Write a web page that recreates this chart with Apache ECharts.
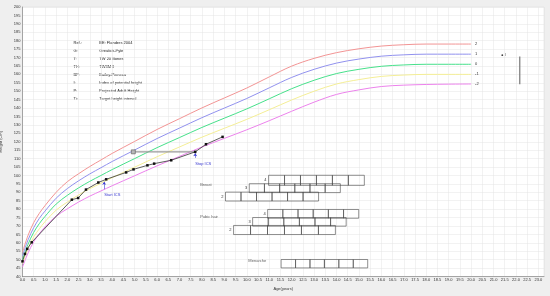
<!DOCTYPE html>
<html>
<head>
<meta charset="utf-8">
<script src="https://cdn.jsdelivr.net/npm/echarts@6/dist/echarts.min.js"></script>
<style>
  html, body { margin: 0; padding: 0; background: #ffffff; }
  #chart { width: 550px; height: 296px; }
</style>
</head>
<body>
<div id="chart"></div>
<script>
// reference curves (Flanders 2004), height in cm at each age
const refAges = [0, 0.25, 0.5, 0.75, 1, 1.5, 2, 2.5, 3, 3.5, 4, 5, 6, 7, 8, 9, 10, 11, 12, 13, 14, 15, 16, 17, 18, 19, 20];
const sdPlus2  = [54.4, 64.5, 72, 77.5, 82, 90, 96.3, 101, 105.3, 109.2, 113.1, 120.2, 127.3, 133.7, 140.1, 146, 151.9, 158.5, 164.9, 169.5, 172.9, 175.2, 176.8, 177.6, 178, 178, 178];
const sdPlus1  = [52.2, 61.8, 69, 74.5, 78.8, 86.5, 92.2, 96.8, 100.9, 104.6, 108.3, 115.1, 121.9, 128.1, 134.3, 140, 145.7, 152, 158.2, 163, 166.7, 169.1, 170.8, 171.6, 172, 172, 172];
const sdZero   = [50, 59.2, 66.2, 71.4, 75.6, 83, 88.2, 92.6, 96.5, 100, 103.5, 110, 116.5, 122.5, 128.5, 134, 139.5, 145.5, 151.5, 156.5, 160.5, 163, 164.8, 165.6, 166, 166, 166];
const sdMinus1 = [47.8, 56.6, 63.5, 68.3, 72.5, 79.4, 84.2, 88.4, 92.1, 95.4, 98.7, 104.9, 111.1, 116.9, 122.7, 128, 133.3, 139, 144.8, 150, 154.3, 156.9, 158.8, 159.6, 160, 160, 160];
const sdMinus2 = [45.6, 54, 60.6, 65.3, 69.4, 75.8, 80.2, 84.2, 87.7, 90.8, 93.9, 99.8, 105.7, 111.3, 116.9, 122, 127.1, 132.5, 138.1, 143.5, 148.1, 150.8, 152.8, 153.6, 154, 154.2, 154.3];

// measured heights of the child
const patientAges    = [0, 0.11, 0.21, 0.41, 2.2, 2.48, 2.83, 3.38, 3.73, 4.62, 4.95, 5.57, 5.87, 6.63, 7.7, 8.18, 8.92];
const patientHeights = [49, 53.4, 56.4, 60.3, 85.6, 86.6, 91.6, 95.8, 97.7, 101.8, 103.6, 106, 107, 109, 114, 118.5, 122.9];

// bone age (square) linked to chronological age
const boneAge = [4.94, 7.7];
const boneHeight = 114;

// treatment markers: [age, arrow bottom, arrow top, text]
const icsMarks = [
  [3.64, 91.8, 96.2, 'Start ICS'],
  [7.7, 110.4, 113.2, 'Stop ICS']
];

// index of potential height and target interval
const indexPoint = [21.39, 171.4];
const targetAge = 22.17;
const targetRange = [154.1, 170.6];

// puberty stage rows: [group, stage, startAge, endAge, top, bottom, boxes]
const stageRows = [
  ['Breast', '4', 10.97, 15.24, 100.1, 94.1, 6],
  ['Breast', '3', 10.11, 14.17, 95.1, 89.8, 6],
  ['Breast', '2', 9.05, 13.2, 90.1, 84.8, 6],
  ['Pubic hair', '4', 10.93, 14.99, 79.8, 74.6, 6],
  ['Pubic hair', '3', 10.26, 14.43, 75.0, 69.9, 6],
  ['Pubic hair', '2', 9.41, 13.95, 70.3, 64.9, 6],
  ['Menarche', '', 11.53, 15.39, 50.1, 45.1, 6]
];
const groupLabels = [
  ['Breast', 7.92, 94.5],
  ['Pubic hair', 7.92, 75.2],
  ['Menarche', 10.07, 49.4]
];

// info block top left
const infoKeys = ['Ref.:', 'G:', 'T:', 'TH:', 'BP:', 'I:', 'P:', 'Ti:'];
const infoValues = ['BE: Flanders 2004', 'Greulich-Pyle', 'TW 20 Bones', 'TW3M II', 'Bailey-Pinneau', 'Index of potential height', 'Projected Adult Height', 'Target height interval'];

const chart = echarts.init(document.getElementById('chart'));

function zipAges(vals) {
  return refAges.map((a, i) => [a, vals[i]]);
}

const curveDefs = [
  ['2', sdPlus2, '#f29494'],
  ['1', sdPlus1, '#9191ee'],
  ['0', sdZero, '#46e08a'],
  ['-1', sdMinus1, '#f4ee96'],
  ['-2', sdMinus2, '#ec82ec']
];

const series = curveDefs.map(c => ({
  name: c[0],
  type: 'line',
  data: zipAges(c[1]),
  smooth: 0.35,
  showSymbol: false,
  silent: true,
  lineStyle: { color: c[2], width: 1 },
  endLabel: { show: true, formatter: c[0], color: '#333', fontSize: 4, distance: 4 }
}));

series.push({
  type: 'line',
  data: [[boneAge[0], boneHeight], [boneAge[1], boneHeight]],
  symbol: 'none',
  lineStyle: { color: '#9a9a9a', width: 1.4 },
  markPoint: {
    symbol: 'rect', symbolSize: 4,
    itemStyle: { color: '#b8b8b8', borderColor: '#555', borderWidth: 0.6 },
    label: { show: false },
    data: [{ coord: [boneAge[0], boneHeight] }]
  }
});

series.push({
  type: 'line',
  data: patientAges.map((a, i) => [a, patientHeights[i]]),
  symbol: 'rect',
  symbolSize: 2.5,
  itemStyle: { color: '#111' },
  lineStyle: { color: '#333', width: 0.8 },
  markLine: {
    silent: true,
    symbol: ['none', 'arrow'],
    symbolSize: 3,
    lineStyle: { color: '#3a3ad0', width: 0.6, type: 'solid' },
    label: { show: true, position: 'start', color: '#3a3ad0', fontSize: 4, align: 'left', distance: 0, padding: [4, 0, 0, 0], formatter: p => p.name },
    data: icsMarks.map(m => [{ coord: [m[0], m[1]], name: m[3] }, { coord: [m[0], m[2]] }])
  }
});

series.push({
  type: 'scatter',
  data: [indexPoint],
  symbol: 'circle',
  symbolSize: 1.8,
  itemStyle: { color: '#111' },
  label: { show: true, formatter: 'I', position: 'right', distance: 2, fontSize: 4, color: '#333' }
});

series.push({
  type: 'line',
  data: [[targetAge, targetRange[0]], [targetAge, targetRange[1]]],
  symbol: 'none',
  lineStyle: { color: '#777', width: 1.2 },
  markPoint: {
    symbol: 'none',
    label: { show: true, formatter: 'Ti', position: 'right', color: '#333', fontSize: 4, offset: [3, 0] },
    data: [{ coord: [targetAge, (targetRange[0] + targetRange[1]) / 2] }]
  }
});

series.push({
  type: 'custom',
  silent: true,
  data: stageRows.map(r => [r[2], r[3], r[4], r[5], r[6], r[1]]),
  renderItem: function (params, api) {
    const row = stageRows[params.dataIndex];
    const p0 = api.coord([api.value(0), api.value(2)]);
    const p1 = api.coord([api.value(1), api.value(3)]);
    const n = api.value(4);
    const w = (p1[0] - p0[0]) / n;
    const kids = [];
    for (let i = 0; i < n; i++) {
      kids.push({
        type: 'rect',
        shape: { x: p0[0] + i * w, y: p0[1], width: w, height: p1[1] - p0[1] },
        style: { fill: 'rgba(255,255,255,0)', stroke: '#444', lineWidth: 0.6 }
      });
    }
    if (row[1]) {
      kids.push({
        type: 'text',
        style: { text: row[1], x: p0[0] - 2, y: (p0[1] + p1[1]) / 2, align: 'right', verticalAlign: 'middle', fontSize: 4, fill: '#333' }
      });
    }
    return { type: 'group', children: kids };
  }
});

series.push({
  type: 'scatter',
  silent: true,
  symbolSize: 0,
  data: groupLabels.map(g => ({ value: [g[1], g[2]], name: g[0] })),
  label: { show: true, position: 'right', distance: 0, formatter: p => p.name, fontSize: 4, color: '#333' }
});

const infoText = [];
infoKeys.forEach((k, i) => {
  infoText.push({ type: 'text', left: 73.5, top: 41.3 + i * 8, style: { text: k, fontSize: 4, fill: '#222' } });
  infoText.push({ type: 'text', left: 99.3, top: 41.3 + i * 8, style: { text: infoValues[i], fontSize: 4, fill: '#222' } });
});

const option = {
  backgroundColor: '#efefef',
  animation: false,
  textStyle: { fontFamily: 'Liberation Sans, Arial, sans-serif' },
  grid: {
    left: 22.5, right: 6, top: 7, bottom: 19.5,
    show: true, backgroundColor: '#ffffff', borderColor: '#d8d8d8', borderWidth: 0.5,
    containLabel: false, outerBoundsMode: 'none'
  },
  xAxis: {
    type: 'value',
    min: 0, max: 23.25, interval: 0.5,
    name: 'Age(years)', nameLocation: 'middle', nameGap: 6,
    nameTextStyle: { fontSize: 4, color: '#333' },
    axisLine: { show: true, lineStyle: { color: '#777', width: 0.6 } },
    axisTick: { show: false },
    axisLabel: {
      fontSize: 4, color: '#333', margin: 1.5,
      formatter: v => (Math.abs(v * 2 - Math.round(v * 2)) < 1e-6 ? v.toFixed(1) : '')
    },
    splitLine: { show: true, lineStyle: { color: '#e4e4e4', width: 0.5 } }
  },
  yAxis: {
    type: 'value',
    min: 40, max: 200, interval: 5,
    name: 'Height (Cm)', nameLocation: 'middle', nameGap: 12,
    nameTextStyle: { fontSize: 4, color: '#333' },
    axisLine: { show: true, lineStyle: { color: '#777', width: 0.6 } },
    axisTick: { show: false },
    axisLabel: { fontSize: 4, color: '#333', margin: 2 },
    splitLine: { show: true, lineStyle: { color: '#e4e4e4', width: 0.5 } }
  },
  graphic: infoText,
  series: series
};

chart.setOption(option);
</script>
</body>
</html>
